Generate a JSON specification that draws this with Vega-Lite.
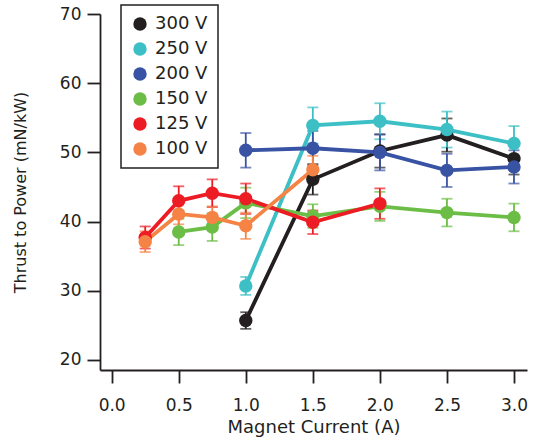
{
  "$schema": "https://vega.github.io/schema/vega-lite/v6.json",
  "autosize": "none",
  "width": 427,
  "height": 356,
  "padding": {"left": 100, "top": 14, "right": 6, "bottom": 76},
  "background": "white",
  "config": {
    "view": {"stroke": null},
    "font": "DejaVu Sans",
    "axis": {
      "grid": false,
      "domainColor": "#231f20",
      "domainWidth": 1.8,
      "tickColor": "#231f20",
      "tickWidth": 1.8,
      "tickSize": 13,
      "labelFont": "DejaVu Sans",
      "labelFontSize": 17,
      "labelColor": "#231f20",
      "titleFont": "DejaVu Sans",
      "titleFontSize": 17,
      "titleFontWeight": "normal",
      "titleColor": "#231f20"
    },
    "legend": {
      "orient": "none",
      "legendX": 21,
      "legendY": -9,
      "labelFont": "DejaVu Sans",
      "labelFontSize": 18,
      "labelColor": "#231f20",
      "symbolType": "circle",
      "symbolSize": 180,
      "symbolStrokeWidth": 0,
      "strokeColor": "#231f20",
      "strokeWidth": 1.5,
      "padding": 10,
      "rowPadding": 7,
      "labelOffset": 6
    }
  },
  "data": {
    "values": [
      {"series": "300 V", "x": 1.0, "y": 25.7, "err": 1.2},
      {"series": "300 V", "x": 1.5, "y": 46.1, "err": 2.2},
      {"series": "300 V", "x": 2.0, "y": 50.2, "err": 2.4},
      {"series": "300 V", "x": 2.5, "y": 52.5, "err": 2.4},
      {"series": "300 V", "x": 3.0, "y": 49.1, "err": 2.3},
      {"series": "250 V", "x": 1.0, "y": 30.7, "err": 1.3},
      {"series": "250 V", "x": 1.5, "y": 53.9, "err": 2.6},
      {"series": "250 V", "x": 2.0, "y": 54.5, "err": 2.6},
      {"series": "250 V", "x": 2.5, "y": 53.3, "err": 2.6},
      {"series": "250 V", "x": 3.0, "y": 51.3, "err": 2.5},
      {"series": "200 V", "x": 1.0, "y": 50.3, "err": 2.5},
      {"series": "200 V", "x": 1.5, "y": 50.6, "err": 2.5},
      {"series": "200 V", "x": 2.0, "y": 50.0, "err": 2.6},
      {"series": "200 V", "x": 2.5, "y": 47.4, "err": 2.4},
      {"series": "200 V", "x": 3.0, "y": 47.9, "err": 2.4},
      {"series": "150 V", "x": 0.5, "y": 38.5, "err": 1.9},
      {"series": "150 V", "x": 0.75, "y": 39.2, "err": 2.0},
      {"series": "150 V", "x": 1.0, "y": 42.7, "err": 2.2},
      {"series": "150 V", "x": 1.5, "y": 40.8, "err": 1.7},
      {"series": "150 V", "x": 2.0, "y": 42.2, "err": 2.1},
      {"series": "150 V", "x": 2.5, "y": 41.3, "err": 2.0},
      {"series": "150 V", "x": 3.0, "y": 40.6, "err": 2.0},
      {"series": "125 V", "x": 0.25, "y": 37.7, "err": 1.6},
      {"series": "125 V", "x": 0.5, "y": 43.0, "err": 2.1},
      {"series": "125 V", "x": 0.75, "y": 44.1, "err": 2.0},
      {"series": "125 V", "x": 1.0, "y": 43.3, "err": 2.2},
      {"series": "125 V", "x": 1.5, "y": 39.9, "err": 1.7},
      {"series": "125 V", "x": 2.0, "y": 42.6, "err": 2.2},
      {"series": "100 V", "x": 0.25, "y": 37.1, "err": 1.5},
      {"series": "100 V", "x": 0.5, "y": 41.1, "err": 1.5},
      {"series": "100 V", "x": 0.75, "y": 40.6, "err": 1.6},
      {"series": "100 V", "x": 1.0, "y": 39.4, "err": 1.9},
      {"series": "100 V", "x": 1.5, "y": 47.5, "err": 2.0}
    ]
  },
  "encoding": {
    "x": {
      "field": "x", "type": "quantitative",
      "scale": {"domain": [-0.087, 3.097], "nice": false, "zero": false},
      "axis": {"values": [0, 0.5, 1, 1.5, 2, 2.5, 3], "format": ".1f", "title": "Magnet Current (A)", "labelPadding": 14, "titlePadding": 5, "titleFontSize": 18},
      "title": "Magnet Current (A)"
    },
    "y": {
      "field": "y", "type": "quantitative",
      "scale": {"domain": [18.55, 70], "nice": false, "zero": false},
      "axis": {"values": [20, 30, 40, 50, 60, 70], "title": "Thrust to Power (mN/kW)", "labelPadding": 6, "titlePadding": 31, "titleFontSize": 16},
      "title": "Thrust to Power (mN/kW)"
    },
    "color": {
      "field": "series", "type": "nominal",
      "scale": {"domain": ["300 V", "250 V", "200 V", "150 V", "125 V", "100 V"], "range": ["#231f20", "#3cbfc5", "#3953a4", "#6bbd45", "#ed1c24", "#f58345"]},
      "legend": {
        "title": null,
        "encode": {
          "symbols": {"update": {"fill": {"scale": "color", "field": "value"}, "stroke": {"value": "transparent"}, "strokeWidth": {"value": 0}, "shape": {"value": "circle"}, "size": {"value": 180}, "opacity": {"value": 1}}}
        }
      }
    }
  },
  "layer": [
    {
      "mark": {"type": "errorbar", "ticks": {"size": 11, "thickness": 1.8}, "thickness": 1.8},
      "encoding": {"yError": {"field": "err"}}
    },
    {
      "mark": {"type": "line", "strokeWidth": 3.8}
    },
    {
      "mark": {"type": "point", "filled": true, "opacity": 1, "size": 180, "shape": "circle"}
    }
  ]
}
